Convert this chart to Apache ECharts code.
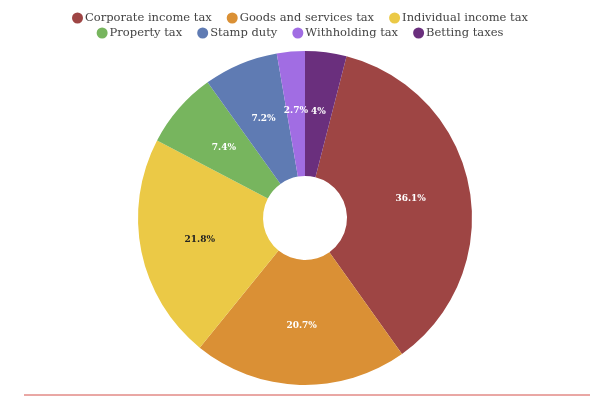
<!DOCTYPE html>
<html>
<head>
<meta charset="utf-8">
<script src="https://cdn.jsdelivr.net/npm/echarts@6/dist/echarts.min.js"></script>
<style>
  html, body { margin: 0; padding: 0; background: #fff; }
  #chart { width: 600px; height: 400px; }
</style>
</head>
<body>
<div id="chart"></div>
<script>
  // 数据
  var categories = ['Corporate income tax', 'Goods and services tax', 'Individual income tax',
    'Property tax', 'Stamp duty', 'Withholding tax', 'Betting taxes'];
  var shares = [36.1, 20.7, 21.8, 7.4, 7.2, 2.7, 4];
  var colors = ['#9e4544', '#da9035', '#ebc946', '#77b55e', '#5f7bb3', '#a16de3', '#6a2f7d'];
  var labelColors = ['#fff', '#fff', '#222', '#fff', '#fff', '#fff', '#fff'];

  var myChart = echarts.init(document.getElementById('chart'));

  var pieData = [];
  for (var i = 0; i < categories.length; i++) {
    pieData.push({
      value: shares[i],
      name: categories[i],
      label: { color: labelColors[i] }
    });
  }

  // 图例分两行
  function makeLegend(top, names) {
    return {
      top: top,
      left: 'center',
      orient: 'horizontal',
      icon: 'circle',
      itemWidth: 11,
      itemHeight: 11,
      itemGap: 15,
      padding: 0,
      textStyle: {
        fontFamily: 'DejaVu Serif',
        fontSize: 11.5,
        color: '#444',
        padding: [0, 0, 0, -3]
      },
      data: names
    };
  }

  var option = {
    color: colors,
    textStyle: { fontFamily: 'DejaVu Serif' },
    legend: [
      makeLegend(12, categories.slice(0, 3)),
      makeLegend(27, categories.slice(3))
    ],
    series: [{
      type: 'pie',
      center: [305, 218],
      radius: [42, 167],
      startAngle: 75.6,
      clockwise: true,
      avoidLabelOverlap: false,
      label: {
        show: true,
        position: 'inside',
        formatter: '{c}%',
        fontFamily: 'DejaVu Serif',
        fontSize: 9,
        fontWeight: 'bold'
      },
      labelLine: { show: false },
      itemStyle: { borderColor: '#fff', borderWidth: 0 },
      data: pieData
    }],
    graphic: [{
      type: 'line',
      shape: { x1: 24, y1: 395, x2: 590, y2: 395 },
      style: { stroke: '#d4504a', lineWidth: 1 }
    }]
  };

  myChart.setOption(option);
</script>
</body>
</html>
